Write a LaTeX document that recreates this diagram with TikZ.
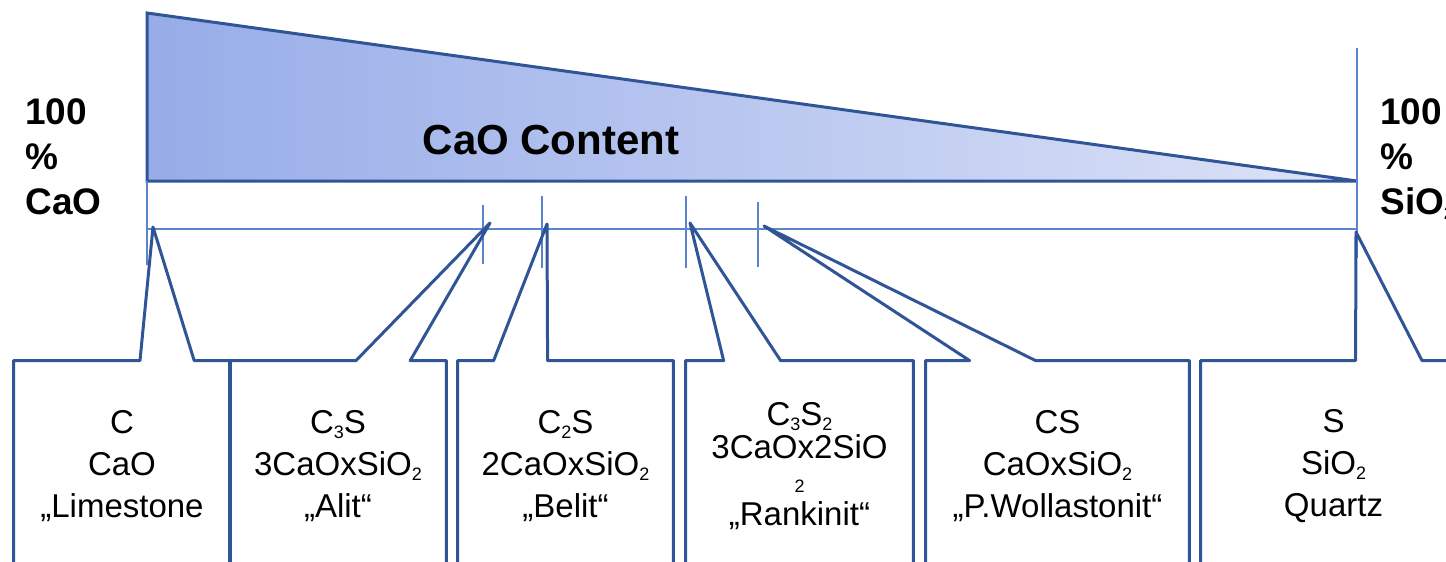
\documentclass[tikz,border=0pt]{standalone}
\usepackage{fontspec}
\setmainfont{Liberation Sans}
\usetikzlibrary{calc}

\definecolor{darkblue}{HTML}{2F5597}
\definecolor{scaleblue}{HTML}{5B84CF}
\definecolor{caorich}{HTML}{97ACE8}
\definecolor{caopoor}{HTML}{DDE3F7}

\newcommand{\chemsub}[1]{\raisebox{-2.5pt}{\fontsize{9}{9}\selectfont #1}}
\newcommand{\wedgebox}[4]{%
	\draw[callout] (#1.north west) -- ($(#1.north west)!#3!(#1.north east)$) -- (#2)
		-- ($(#1.north west)!#4!(#1.north east)$) -- (#1.north east)
		-- (#1.south east) -- (#1.south west) -- cycle;}

\begin{document}
\begin{tikzpicture}[x=0.5pt,y=-0.5pt,line join=round]
		\tikzstyle{phase}=[rectangle,inner sep=0pt,minimum height=105pt,align=center,font=\fontsize{16.5}{21}\selectfont]
		\tikzstyle{callout}=[draw=darkblue,line width=1.5pt]
		\tikzstyle{tick}=[draw=scaleblue,line width=1pt]
		\tikzstyle{pct}=[anchor=north west,inner sep=0pt,align=left,font=\bfseries\fontsize{18.5}{22.5}\selectfont]

		\useasboundingbox (0,0) rectangle (1446,562);

		\draw[draw=darkblue,line width=1.5pt,line join=miter,left color=caorich,right color=caopoor]
			(147,13) -- (147,181) -- (1357,181) -- cycle;
		\node[font=\bfseries\fontsize{21}{25}\selectfont,anchor=base] (content) at (551,154) {CaO Content};

		\node[pct] (left) at (25,98) {100\\\%\\CaO};
		\node[pct] (right) at (1380,98) {100\\\%\\SiO\chemsub{2}};

		\draw[tick] (147,229) -- (1357,229);
		\foreach \x/\a/\b in {147/181/265, 483/205/264, 542/196/268, 686/196/268, 758/202/267, 1357/48/258}
			\draw[tick] (\x,\a) -- (\x,\b);

		\coordinate (pc) at (153,227);
		\coordinate (pc3s) at (490,223);
		\coordinate (pc2s) at (547,224);
		\coordinate (pc3s2) at (690,223);
		\coordinate (pcs) at (764,226);
		\coordinate (ps) at (1356,232);

		\node[phase,minimum width=108pt] (c) at (122,466) {C\\CaO\\„Limestone};
		\node[phase,minimum width=108pt] (c3s) at (338,466) {C\chemsub{3}S\\3CaOxSiO\chemsub{2}\\„Alit“};
		\node[phase,minimum width=107.5pt] (c2s) at (565.5,466) {C\chemsub{2}S\\2CaOxSiO\chemsub{2}\\„Belit“};
		\node[phase,minimum width=113.5pt,font=\fontsize{16.5}{16.7}\selectfont] (c3s2) at (799.5,466)
			{C\chemsub{3}S\chemsub{2}\\3CaOx2SiO\\{\fontsize{9}{9}\selectfont 2}\\„Rankinit“};
		\node[phase,minimum width=131.5pt] (cs) at (1057.5,466) {CS\\CaOxSiO\chemsub{2}\\„P.Wollastonit“};
		\node[phase,minimum width=132.5pt] (s) at (1333.5,466) {S\\SiO\chemsub{2}\\Quartz};

		\wedgebox{c}{pc}{0.583}{0.833}
		\wedgebox{c3s}{pc3s}{0.583}{0.833}
		\wedgebox{c2s}{pc2s}{0.167}{0.417}
		\wedgebox{c3s2}{pc3s2}{0.167}{0.417}
		\wedgebox{cs}{pcs}{0.167}{0.417}
		\wedgebox{s}{ps}{0.583}{0.833}
	\end{tikzpicture}
\end{document}
